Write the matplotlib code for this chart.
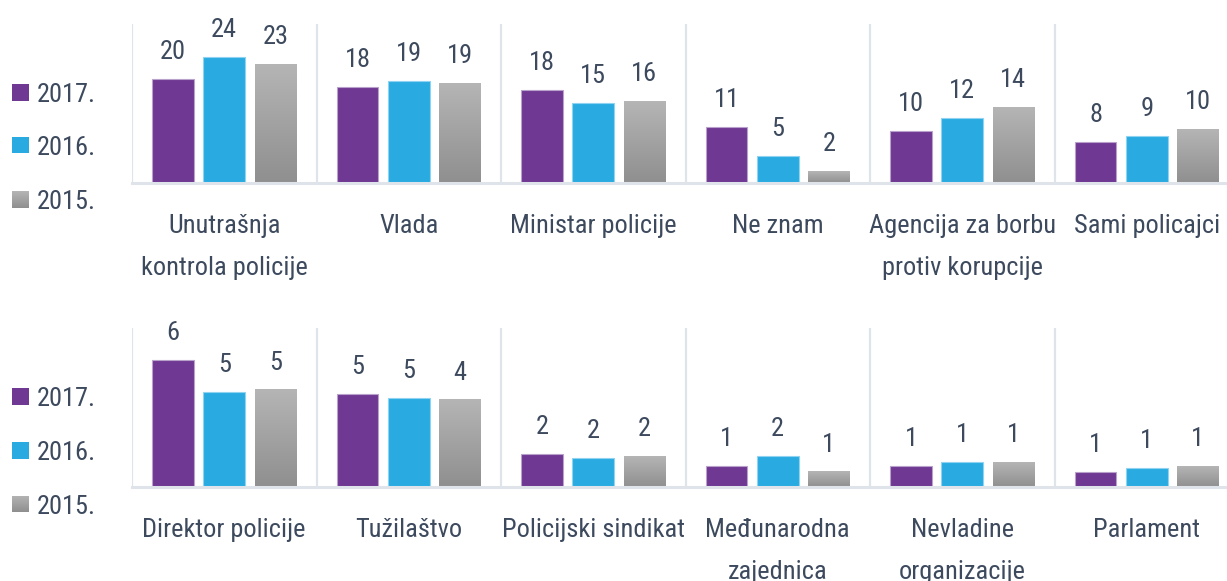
import numpy as np
import matplotlib
matplotlib.use('Agg')
import matplotlib.pyplot as plt
from matplotlib.patches import Rectangle
from matplotlib import font_manager as fm
from matplotlib.colors import LinearSegmentedColormap

# ---------------- data ----------------
years = ['2017.', '2016.', '2015.']

cats_top = ['Unutrašnja\nkontrola policije', 'Vlada', 'Ministar policije',
            'Ne znam', 'Agencija za borbu\nprotiv korupcije', 'Sami policajci']
top_2017 = [19.9, 18.2, 17.7, 10.6, 9.9, 7.8]
top_2016 = [24.0, 19.5, 15.3, 5.1, 12.3, 9.0]
top_2015 = [22.6, 19.0, 15.6, 2.2, 14.4, 10.2]
top_lab_2017 = [20, 18, 18, 11, 10, 8]
top_lab_2016 = [24, 19, 15, 5, 12, 9]
top_lab_2015 = [23, 19, 16, 2, 14, 10]

cats_bot = ['Direktor policije', 'Tužilaštvo', 'Policijski sindikat',
            'Međunarodna\nzajednica', 'Nevladine\norganizacije', 'Parlament']
bot_2017 = [6.48, 4.73, 1.67, 1.07, 1.07, 0.77]
bot_2016 = [4.85, 4.53, 1.46, 1.58, 1.26, 0.95]
bot_2015 = [4.95, 4.44, 1.58, 0.77, 1.26, 1.07]
bot_lab_2017 = [6, 5, 2, 1, 1, 1]
bot_lab_2016 = [5, 5, 2, 2, 1, 1]
bot_lab_2015 = [5, 4, 2, 1, 1, 1]

# ---------------- font (condensed if available) ----------------
entries = fm.fontManager.ttflist
names = {f.name for f in entries}
FONT, STRETCH = None, 'normal'
for cand in ['Liberation Sans Narrow', 'Roboto Condensed', 'Noto Sans Condensed',
             'Open Sans Condensed', 'DejaVu Sans Condensed', 'Arial Narrow']:
    if cand in names:
        FONT = cand
        break
if FONT is None:
    cond = [f for f in entries
            if str(f.stretch) in ('condensed', 'semi-condensed', 'extra-condensed')
            and f.style == 'normal' and f.weight in (400, 'normal', 'regular')]
    pref = ['Roboto', 'Noto Sans', 'Open Sans', 'DejaVu Sans', 'Lato', 'Inter']
    cond.sort(key=lambda f: (pref.index(f.name) if f.name in pref else 99))
    if cond:
        FONT, STRETCH = cond[0].name, str(cond[0].stretch)
if FONT is None:
    FONT = 'DejaVu Sans'
plt.rcParams['font.family'] = [FONT, 'DejaVu Sans']
plt.rcParams['font.stretch'] = STRETCH

PURPLE = '#6f3893'
BLUE = '#29abe2'
TEXT = '#3d4a5e'
SEP = '#dfe4eb'
grey_cmap = LinearSegmentedColormap.from_list('g', ['#8f8f8f', '#b5b5b5'])

W, H = 1227, 581
fig = plt.figure(figsize=(W / 100, H / 100), dpi=100)
fig.patch.set_facecolor('white')


def rect(left, top, right, bottom):
    return [left / W, 1 - bottom / H, (right - left) / W, (bottom - top) / H]


FS = 19
OFF = 0.277
BW = 0.226


def draw_row(ax, cats, vals, labs, ymax):
    x = np.arange(len(cats))
    colors = [PURPLE, BLUE, None]
    edges = ['#b8a2cc', '#8fd3f0', None]
    for k, (v, lab) in enumerate(zip(vals, labs)):
        xs = x + (k - 1) * OFF
        if colors[k] is not None:
            bars = ax.bar(xs, v, width=BW, color=colors[k], edgecolor=edges[k],
                          linewidth=0.8, zorder=2)
        else:
            bars = ax.bar(xs, v, width=BW, color='#a0a0a0', linewidth=0, zorder=2)
            grad = np.linspace(0, 1, 256).reshape(-1, 1)
            for p in bars:
                x0, y0, w, h = p.get_x(), p.get_y(), p.get_width(), p.get_height()
                ax.imshow(grad, extent=[x0, x0 + w, y0, y0 + h], aspect='auto',
                          cmap=grey_cmap, origin='lower', zorder=2.5,
                          interpolation='bilinear')
        for p, t in zip(bars, lab):
            ax.annotate(str(t), (p.get_x() + p.get_width() / 2, p.get_height()),
                        xytext=(0, 14.4), textcoords='offset points',
                        ha='center', va='baseline', fontsize=FS, color=TEXT,
                        annotation_clip=False)
    ax.set_xlim(-0.5, len(cats) - 0.5)
    ax.set_ylim(0, ymax)
    for b in np.arange(-0.5, len(cats) + 0.5):
        ax.axvline(b, color=SEP, linewidth=1.6, zorder=1)
    for s in ['top', 'right', 'left']:
        ax.spines[s].set_visible(False)
    ax.spines['bottom'].set_color(SEP)
    ax.spines['bottom'].set_linewidth(2.2)
    ax.set_yticks([])
    ax.set_xticks(x)
    ax.set_xticklabels(cats, fontsize=FS, color=TEXT, linespacing=1.95, va='top')
    ax.tick_params(axis='x', length=0, pad=22)
    ax.set_facecolor('none')


ax1 = fig.add_axes(rect(132, 24, 1239, 183))
draw_row(ax1, cats_top, [top_2017, top_2016, top_2015],
         [top_lab_2017, top_lab_2016, top_lab_2015], 159 / 5.25)

ax2 = fig.add_axes(rect(132, 328, 1239, 487))
draw_row(ax2, cats_bot, [bot_2017, bot_2016, bot_2015],
         [bot_lab_2017, bot_lab_2016, bot_lab_2015], 159 / 19.6)


# ---------------- legends ----------------
def legend(baselines):
    for k, (yr, yb) in enumerate(zip(years, baselines)):
        sq_top = yb - 18
        sq_bot = yb - 1.5
        r = rect(12, sq_top, 29, sq_bot)
        if k < 2:
            fig.add_artist(Rectangle((r[0], r[1]), r[2], r[3], transform=fig.transFigure,
                                     facecolor=[PURPLE, BLUE][k], edgecolor='none'))
        else:
            axg = fig.add_axes(r)
            axg.imshow(np.linspace(0, 1, 64).reshape(-1, 1), aspect='auto',
                       cmap=grey_cmap, origin='lower', extent=[0, 1, 0, 1])
            axg.axis('off')
        fig.text(37 / W, 1 - yb / H, yr, fontsize=FS, color=TEXT,
                 ha='left', va='baseline')


legend([102, 155, 209])
legend([406, 460, 514])

fig.savefig('out.png', dpi=100, facecolor='white')
